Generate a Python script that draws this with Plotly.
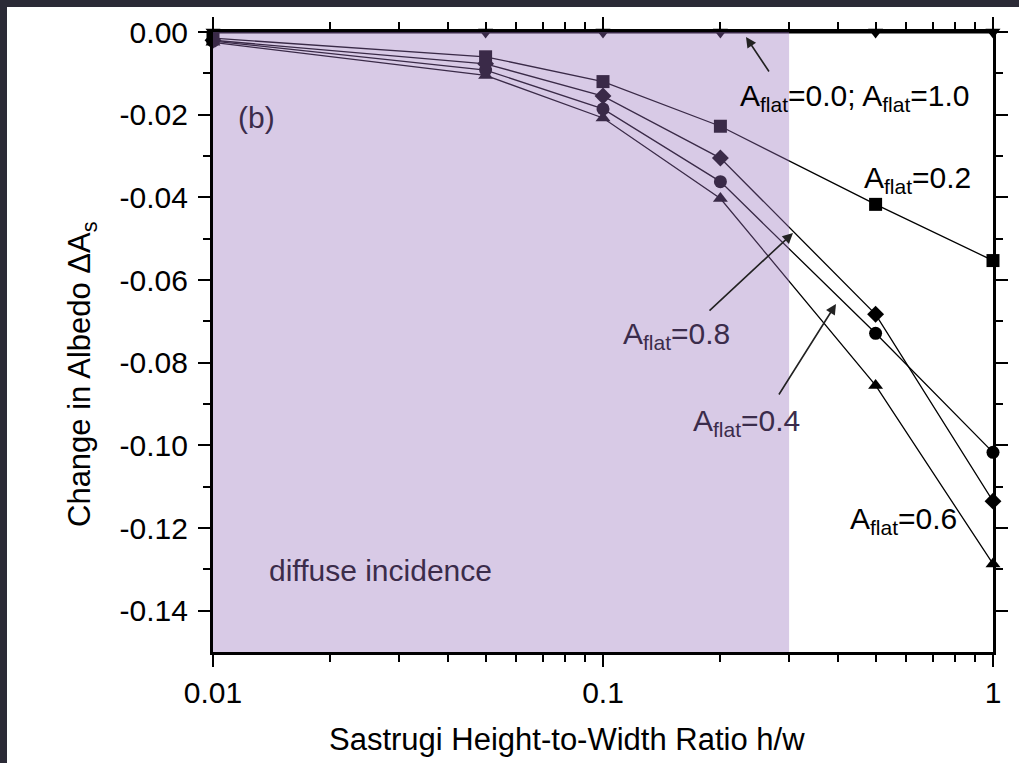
import plotly.graph_objects as go

# ---- data ----
hw = [0.01, 0.05, 0.1, 0.2, 0.5, 1.0]
a_flat_00_10 = [0.0, 0.0, 0.0, 0.0, 0.0, 0.0]
a_flat_02 = [-0.0015, -0.0060, -0.0120, -0.0228, -0.0417, -0.0553]
a_flat_08 = [-0.0020, -0.0077, -0.0155, -0.0305, -0.0683, -0.1135]
a_flat_04 = [-0.0022, -0.0092, -0.0186, -0.0362, -0.0729, -0.1017]
a_flat_06 = [-0.0025, -0.0105, -0.0208, -0.0403, -0.0855, -0.1287]

y_ticks = [0.0, -0.02, -0.04, -0.06, -0.08, -0.10, -0.12, -0.14]
y_tick_labels = ["0.00", "-0.02", "-0.04", "-0.06", "-0.08", "-0.10", "-0.12", "-0.14"]
y_minor = [-0.01, -0.03, -0.05, -0.07, -0.09, -0.11, -0.13]
x_ticks = [0.01, 0.1, 1]
x_tick_labels = ["0.01", "0.1", "1"]
x_minor = [m * d for d in (0.01, 0.1) for m in range(2, 10)]

diffuse_end = 0.3

# ---- layout geometry ----
W, H = 1019, 763
L, R, T, B = 213, 26, 32, 111
PW, PH = W - L - R, H - T - B
X0, X1 = -2.0, 0.0
Y0, Y1 = -0.15, 0.0

def lx(px):
    return X0 + (px - L) / PW * (X1 - X0)

def dy(py):
    return Y1 - (py - T) / PH * (Y1 - Y0)

def fx(px):
    return (px - L) / PW

def fy(py):
    return (T + PH - py) / PH

FONT = "Liberation Sans, Arial, Helvetica, sans-serif"
SHADE = "#3b2c4b"
BORDER = "#2b2a36"

fig = go.Figure()

series = [
    (a_flat_00_10, "triangle-down", "A=0.0; A=1.0", 3),
    (a_flat_02, "square", "A=0.2", 1.3),
    (a_flat_08, "diamond", "A=0.8", 1.3),
    (a_flat_04, "circle", "A=0.4", 1.3),
    (a_flat_06, "triangle-up", "A=0.6", 1.3),
]
for ys, sym, name, lw in series:
    fig.add_trace(go.Scatter(
        x=hw, y=ys, mode="lines+markers", name=name,
        line=dict(color="black", width=lw),
        marker=dict(symbol=sym, size=13, color="black"),
        cliponaxis=False, showlegend=False,
    ))

shapes = [
    # dark page border (left and top)
    dict(type="rect", xref="paper", yref="paper",
         x0=fx(0), x1=fx(7), y0=fy(H), y1=fy(0),
         fillcolor=BORDER, line=dict(width=0), layer="above"),
    dict(type="rect", xref="paper", yref="paper",
         x0=fx(0), x1=fx(W), y0=fy(7), y1=fy(0),
         fillcolor=BORDER, line=dict(width=0), layer="above"),
    # diffuse shading base
    dict(type="rect", xref="x", yref="y", x0=0.01, x1=diffuse_end, y0=Y0, y1=Y1,
         fillcolor="#e3e6e2", line=dict(width=0), layer="below"),
    # tint overlay
    dict(type="rect", xref="x", yref="y", x0=0.01, x1=diffuse_end, y0=Y0 - 0.0008, y1=Y1 + 0.0008,
         fillcolor="#c18cf0", opacity=0.3, line=dict(width=0), layer="above"),
]

fs = 30
ann = []
def text(px, py, s, color="black", size=fs, anchor="left"):
    ann.append(dict(x=lx(px), y=dy(py), xref="x", yref="y", text=s, showarrow=False,
                    xanchor=anchor, yanchor="middle", font=dict(family=FONT, size=size, color=color)))

def arrow(hx, hy, tx, ty, color="black"):
    ann.append(dict(x=lx(hx), y=dy(hy), xref="x", yref="y", text="", showarrow=True,
                    ax=tx - hx, ay=ty - hy, arrowhead=2, arrowsize=1.3, arrowwidth=1.6,
                    arrowcolor=color, standoff=0))

AF = "A<sub>flat</sub>"
text(256, 117, "(b)", SHADE, anchor="center")
text(738, 97, AF + "=0.0; " + AF + "=1.0")
arrow(746, 37, 770, 73, "#222")
text(862, 179, AF + "=0.2")
text(621, 335, AF + "=0.8", SHADE)
arrow(793, 233, 708, 312, "#222")
text(691, 422, AF + "=0.4", SHADE)
arrow(836, 304, 778, 396, "#222")
text(848, 520, AF + "=0.6")
text(267, 570, "diffuse incidence", SHADE)

# axis titles
ann.append(dict(x=fx(567), y=fy(739), xref="paper", yref="paper",
                text="Sastrugi Height-to-Width Ratio h/w", showarrow=False,
                xanchor="center", yanchor="middle", font=dict(family=FONT, size=31, color="black")))
ann.append(dict(x=fx(82), y=fy(374), xref="paper", yref="paper",
                text="Change in Albedo ΔA<sub>s</sub>", showarrow=False, textangle=-90,
                xanchor="center", yanchor="middle", font=dict(family=FONT, size=31, color="black")))

axis_common = dict(showgrid=False, zeroline=False, showline=True, linecolor="black", linewidth=3,
                   mirror="allticks", ticks="outside", ticklen=12, tickwidth=2, tickcolor="black",
                   tickfont=dict(family=FONT, size=fs, color="black"))

fig.update_layout(
    width=W, height=H,
    margin=dict(l=L, r=R, t=T, b=B, autoexpand=False),
    paper_bgcolor="white", plot_bgcolor="white",
    shapes=shapes, annotations=ann,
    xaxis=dict(type="log", range=[X0, X1], tickmode="array", tickvals=x_ticks, ticktext=x_tick_labels,
               minor=dict(tickmode="array", tickvals=x_minor, ticks="outside", ticklen=7,
                          tickwidth=2, tickcolor="black"),
               ticklabelstandoff=0, **axis_common),
    yaxis=dict(range=[Y0, Y1], tickmode="array", tickvals=y_ticks, ticktext=y_tick_labels,
               minor=dict(tickmode="array", tickvals=y_minor, ticks="outside", ticklen=7,
                          tickwidth=2, tickcolor="black"),
               ticklabelstandoff=4, **axis_common),
)

fig.write_html("out.html")
